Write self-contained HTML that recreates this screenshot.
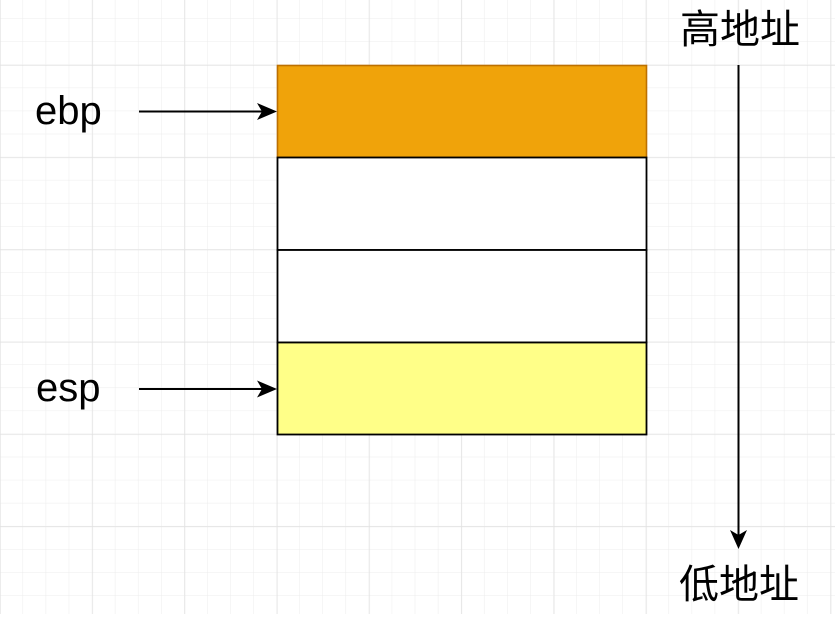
<!DOCTYPE html>
<html><head><meta charset="utf-8"><style>
html,body{margin:0;padding:0;background:#fff;}
body{width:835px;height:614px;overflow:hidden;}
</style></head><body>
<svg width="835" height="614" xmlns="http://www.w3.org/2000/svg">
<defs>
<pattern id="g" width="23.07" height="23.07" patternUnits="userSpaceOnUse" x="0" y="18.9">
<path d="M23.07 0V23.07M0 23.07H23.07" fill="none" stroke="#ececec" stroke-width="1"/>
</pattern>
<pattern id="G" width="92.3" height="92.3" patternUnits="userSpaceOnUse" x="0" y="65">
<path d="M0 0V92.3M0 0H92.3" fill="none" stroke="#e0e0e0" stroke-width="1.2"/>
</pattern>
</defs>
<rect width="835" height="614" fill="url(#g)"/>
<rect width="835" height="614" fill="url(#G)"/>
<rect x="277.5" y="65.5" width="369" height="92" fill="#f0a30a" stroke="#bd7000" stroke-width="1.6"/>
<rect x="277.5" y="157.5" width="369" height="92.5" fill="#fff" stroke="#000" stroke-width="1.8"/>
<rect x="277.5" y="250" width="369" height="92.5" fill="#fff" stroke="#000" stroke-width="1.8"/>
<rect x="277.5" y="342.5" width="369" height="92" fill="#ffff88" stroke="#000" stroke-width="1.8"/>
<g stroke="#000" stroke-width="2">
<line x1="139" y1="111.5" x2="270" y2="111.5"/>
<line x1="139" y1="389" x2="270" y2="389"/>
<line x1="738.5" y1="65" x2="738.5" y2="540"/>
</g>
<g fill="#000">
<path d="M277 111.5 L257 103 L262 111.5 L257 120Z"/>
<path d="M277 389 L257 380.5 L262 389 L257 397.5Z"/>
<path d="M738.5 549 L730 530 L738.5 535 L747 530Z"/>
</g>
<g font-family="Liberation Sans, sans-serif" font-size="40" fill="#000">
<text x="35" y="124">ebp</text>
<text x="36" y="401">esp</text>
</g>
<g font-family="Liberation Sans, 'Noto Sans CJK SC', sans-serif" font-size="40" fill="#000" text-anchor="middle">
<text x="740" y="43">高地址</text>
<text x="739" y="598">低地址</text>
</g>
</svg>
</body></html>
